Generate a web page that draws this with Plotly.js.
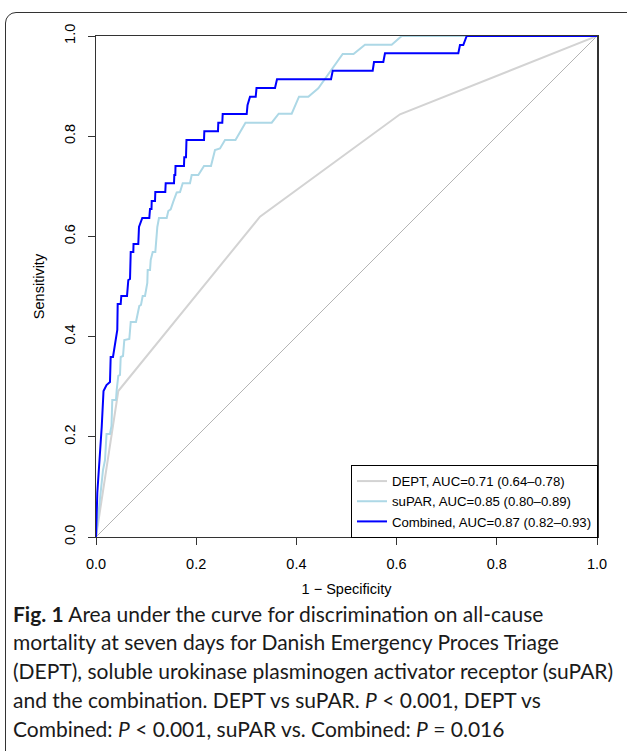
<!DOCTYPE html>
<html>
<head>
<meta charset="utf-8">
<script src="https://cdn.plot.ly/plotly-3.0.1.min.js"></script>
<style>
html,body{margin:0;padding:0;background:#fff;overflow:hidden;}
#frame{position:absolute;left:5px;top:12px;width:700px;height:800px;border:1.5px solid #333;border-radius:11px;box-sizing:border-box;}
#chart{position:absolute;left:0;top:0;width:627px;height:751px;}
</style>
</head>
<body>
<div id="frame"></div>
<div id="chart"></div>
<script>
// ---- data (1 - specificity, sensitivity) ----
const deptFpr = [0, 0.0445, 0.3273, 0.6068, 1];
const deptTpr = [0, 0.2914, 0.6393, 0.8437, 1];

const suparFpr = [0, 0.0060, 0.0140, 0.0180, 0.0210, 0.0279, 0.0309, 0.0325, 0.0399, 0.0413, 0.0445, 0.0479, 0.0493, 0.0539, 0.0565, 0.0665, 0.0693, 0.0798, 0.0864, 0.0898, 0.0932, 0.0978, 0.1024, 0.1032, 0.1078, 0.1092, 0.1132, 0.1184, 0.1224, 0.1257, 0.1411, 0.1443, 0.1491, 0.1543, 0.1611, 0.1677, 0.1731, 0.1876, 0.1910, 0.2042, 0.2156, 0.2295, 0.2375, 0.2475, 0.2575, 0.2784, 0.2984, 0.3507, 0.3647, 0.3906, 0.4052, 0.4238, 0.4437, 0.4924, 0.5140, 0.5369, 0.5902, 0.6102, 1];
const suparTpr = [0, 0.0539, 0.1337, 0.1537, 0.2056, 0.2056, 0.2216, 0.2735, 0.2735, 0.2934, 0.3214, 0.3234, 0.3593, 0.3613, 0.3932, 0.3952, 0.4291, 0.4291, 0.4611, 0.4631, 0.4810, 0.4810, 0.5070, 0.5329, 0.5329, 0.5529, 0.5689, 0.5689, 0.6188, 0.6367, 0.6367, 0.6507, 0.6541, 0.6693, 0.6876, 0.6886, 0.7060, 0.7060, 0.7226, 0.7226, 0.7405, 0.7405, 0.7725, 0.7754, 0.7924, 0.7924, 0.8269, 0.8269, 0.8449, 0.8449, 0.8789, 0.8789, 0.8956, 0.9641, 0.9641, 0.9826, 0.9826, 1.0, 1];

const combFpr = [0, 0.0014, 0.0026, 0.0114, 0.0150, 0.0210, 0.0279, 0.0293, 0.0339, 0.0425, 0.0433, 0.0493, 0.0505, 0.0619, 0.0645, 0.0679, 0.0693, 0.0745, 0.0749, 0.0844, 0.0858, 0.0924, 0.1064, 0.1078, 0.1108, 0.1112, 0.1178, 0.1184, 0.1383, 0.1391, 0.1557, 0.1563, 0.1583, 0.1587, 0.1756, 0.1762, 0.1796, 0.1806, 0.2156, 0.2162, 0.2435, 0.2441, 0.2521, 0.2529, 0.3008, 0.3024, 0.3074, 0.3188, 0.3204, 0.3573, 0.3613, 0.4691, 0.4725, 0.5523, 0.5549, 0.5735, 0.5768, 0.7232, 0.7265, 0.7331, 0.7399, 1];
const combTpr = [0, 0.0679, 0.0878, 0.2196, 0.2914, 0.3034, 0.3094, 0.3593, 0.3593, 0.4132, 0.4651, 0.4651, 0.4810, 0.4810, 0.5130, 0.5150, 0.5689, 0.5689, 0.5848, 0.5848, 0.6188, 0.6367, 0.6367, 0.6547, 0.6547, 0.6707, 0.6707, 0.6886, 0.6886, 0.7060, 0.7060, 0.7226, 0.7226, 0.7405, 0.7405, 0.7579, 0.7579, 0.7924, 0.7924, 0.8098, 0.8098, 0.8269, 0.8269, 0.8443, 0.8443, 0.8617, 0.8789, 0.8789, 0.8962, 0.8962, 0.9136, 0.9136, 0.9307, 0.9307, 0.9481, 0.9481, 0.9655, 0.9655, 0.9820, 0.9820, 1.0, 1];

const diagX = [0, 1];
const diagY = [0, 1];

const seriesNames = ["DEPT, AUC=0.71 (0.64\u20130.78)", "suPAR, AUC=0.85 (0.80\u20130.89)", "Combined, AUC=0.87 (0.82\u20130.93)"];
const tickVals = [0, 0.2, 0.4, 0.6, 0.8, 1.0];
const tickText = ["0.0", "0.2", "0.4", "0.6", "0.8", "1.0"];

const captionLines = [
  "<b>Fig. 1</b> Area under the curve for discrimination on all-cause",
  "mortality at seven days for Danish Emergency Proces Triage",
  "(DEPT), soluble urokinase plasminogen activator receptor (suPAR)",
  "and the combination. DEPT vs suPAR. <i>P</i> < 0.001, DEPT vs",
  "Combined: <i>P</i> < 0.001, suPAR vs. Combined: <i>P</i> = 0.016"
];

// ---- layout geometry ----
const W = 627, H = 751;
const mL = 96, mR = 30, mT = 36, mB = 214;
const plotH = H - mT - mB;
const pyToPaper = py => (H - mB - py) / plotH;
const pxToPaper = px => (px - mL) / (W - mL - mR);

const traces = [
  {x: diagX, y: diagY, mode: "lines", line: {color: "#b4b4b4", width: 1}, showlegend: false, hoverinfo: "skip"},
  {x: deptFpr, y: deptTpr, mode: "lines", name: seriesNames[0], line: {color: "#d3d3d3", width: 2}},
  {x: suparFpr, y: suparTpr, mode: "lines", name: seriesNames[1], line: {color: "#add8e6", width: 2}},
  {x: combFpr, y: combTpr, mode: "lines", name: seriesNames[2], line: {color: "#0000ff", width: 2}}
];

const axisFont = {family: "Liberation Sans, Arial, sans-serif", size: 14.5, color: "#000"};

const annotations = captionLines.map((t, i) => ({
  text: t, xref: "paper", yref: "paper",
  x: pxToPaper(11), y: pyToPaper(613 + i * 28.75),
  xanchor: "left", yanchor: "middle", showarrow: false, align: "left",
  font: {family: "Lato, 'Open Sans', sans-serif", size: 21, color: "#1a1a1a"}
}));

const layout = {
  width: W, height: H,
  margin: {l: mL, r: mR, t: mT, b: mB, pad: 0},
  paper_bgcolor: "rgba(0,0,0,0)", plot_bgcolor: "#fff",
  showlegend: true,
  legend: {
    x: 1.002, xanchor: "right", y: -0.002, yanchor: "bottom",
    bgcolor: "#fff", bordercolor: "#000", borderwidth: 1,
    font: {family: "Liberation Sans, Arial, sans-serif", size: 13.2, color: "#000"},
    tracegroupgap: 0
  },
  xaxis: {
    range: [0, 1], tickvals: tickVals, ticktext: tickText,
    ticks: "outside", ticklen: 7, tickwidth: 1, tickcolor: "#333",
    showline: true, mirror: true, linecolor: "#333", linewidth: 1,
    showgrid: false, zeroline: false, tickfont: axisFont, ticklabelstandoff: 7,
    title: {text: "1 \u2212 Specificity", font: axisFont, standoff: 12},
    fixedrange: true
  },
  yaxis: {
    range: [0, 1], tickvals: tickVals, ticktext: tickText, tickangle: -90,
    ticks: "outside", ticklen: 7, tickwidth: 1, tickcolor: "#333",
    showline: true, mirror: true, linecolor: "#333", linewidth: 1.5,
    showgrid: false, zeroline: false, tickfont: axisFont, ticklabelstandoff: 7,
    title: {text: "Sensitivity", font: axisFont, standoff: 13},
    fixedrange: true
  },
  annotations: annotations
};

Plotly.newPlot("chart", traces, layout, {displayModeBar: false, staticPlot: true});
</script>
</body>
</html>
